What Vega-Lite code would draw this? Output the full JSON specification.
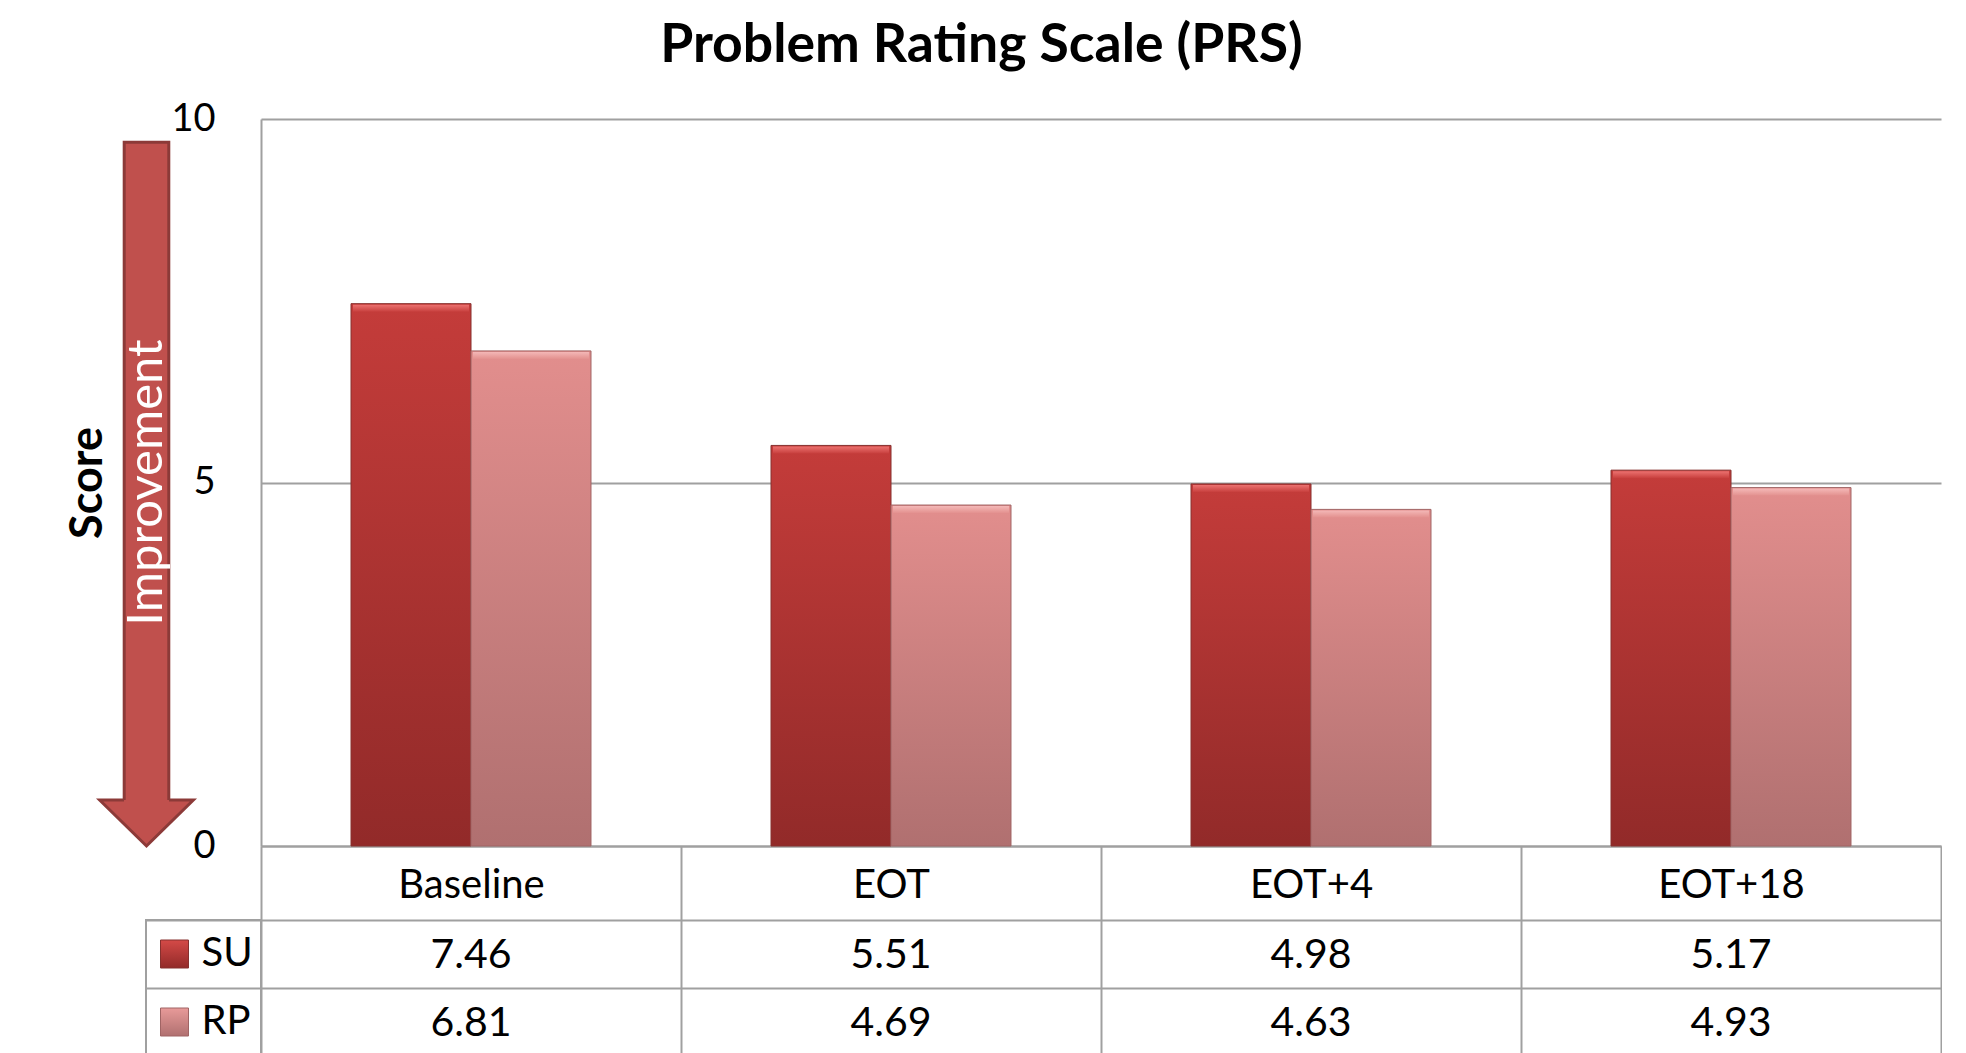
{
  "$schema": "https://vega.github.io/schema/vega-lite/v6.json",
  "background": "white",
  "padding": {"left": 65, "top": 18, "right": 0, "bottom": 0},
  "title": {
    "text": "Problem Rating Scale (PRS)",
    "font": "Lato",
    "fontSize": 53.5,
    "fontWeight": "bold",
    "color": "black",
    "anchor": "middle",
    "dx": -22,
    "offset": 27
  },
  "datasets": {
    "scores": [
      {"time": "Baseline", "group": "SU", "score": 7.46},
      {"time": "Baseline", "group": "RP", "score": 6.81},
      {"time": "EOT", "group": "SU", "score": 5.51},
      {"time": "EOT", "group": "RP", "score": 4.69},
      {"time": "EOT+4", "group": "SU", "score": 4.98},
      {"time": "EOT+4", "group": "RP", "score": 4.63},
      {"time": "EOT+18", "group": "SU", "score": 5.17},
      {"time": "EOT+18", "group": "RP", "score": 4.93}
    ],
    "groups": [{"group": "SU"}, {"group": "RP"}],
    "arrow": [{"label": "Improvement", "from": 9.68, "to": 0.45, "tip": 0}]
  },
  "spacing": -20,
  "vconcat": [
    {
      "hconcat": [
        {
          "width": 1,
          "height": 727,
          "data": {"name": "arrow"},
          "layer": [
            {
              "mark": {"type": "bar", "width": 44.6, "fill": "#C0504D", "stroke": "#8C3A38", "strokeWidth": 3},
              "encoding": {
                "y": {
                  "field": "from",
                  "type": "quantitative",
                  "scale": {"domain": [0, 10], "nice": false, "zero": false},
                  "axis": {
                    "title": "Score",
                    "titleFont": "Lato",
                    "titleFontSize": 45,
                    "titleFontWeight": "bold",
                    "titleColor": "black",
                    "titlePadding": 36,
                    "labels": false,
                    "ticks": false,
                    "grid": false,
                    "domainOpacity": 0
                  }
                },
                "y2": {"field": "to"}
              }
            },
            {
              "mark": {
                "type": "point",
                "shape": "M-0.48,-0.98L-1,-0.98L0,0L1,-0.98L0.48,-0.98",
                "size": 8779,
                "filled": true,
                "fill": "#C0504D",
                "stroke": "#8C3A38",
                "strokeWidth": 3,
                "opacity": 1
              },
              "encoding": {"y": {"field": "tip", "type": "quantitative"}}
            },
            {
              "mark": {
                "type": "text",
                "angle": 270,
                "font": "Lato",
                "fontSize": 49,
                "fontWeight": 400,
                "fill": "white",
                "baseline": "middle",
                "align": "center"
              },
              "encoding": {
                "y": {"datum": 5, "type": "quantitative"},
                "text": {"field": "label"}
              }
            }
          ]
        },
        {
          "width": 1680,
          "height": 727,
          "data": {"name": "scores"},
          "encoding": {
            "x": {
              "field": "time",
              "type": "nominal",
              "sort": ["Baseline", "EOT", "EOT+4", "EOT+18"],
              "scale": {"paddingInner": 0.4286, "paddingOuter": 0.2143},
              "axis": {
                "title": null,
                "labels": false,
                "ticks": false,
                "domainColor": "#A0A0A0",
                "domainWidth": 2
              }
            },
            "xOffset": {
              "field": "group",
              "type": "nominal",
              "sort": ["SU", "RP"],
              "scale": {"paddingInner": 0, "paddingOuter": 0}
            },
            "y": {
              "field": "score",
              "type": "quantitative",
              "scale": {"domain": [0, 10], "nice": false},
              "axis": {
                "title": null,
                "values": [0, 5, 10],
                "grid": true,
                "gridColor": "#A0A0A0",
                "gridWidth": 2,
                "domainColor": "#A0A0A0",
                "domainWidth": 2,
                "ticks": false,
                "labelPadding": 46,
                "labelFont": "Lato",
                "labelFontSize": 38,
                "labelColor": "black"
              }
            }
          },
          "layer": [
            {
              "mark": {"type": "bar", "strokeWidth": 1},
              "encoding": {
                "fill": {
                  "condition": {
                    "test": "datum.group === 'SU'",
                    "value": {"gradient": "linear", "x1": 0, "y1": 0, "x2": 0, "y2": 1, "stops": [{"offset": 0, "color": "#C43C3A"}, {"offset": 1, "color": "#922A29"}]}
                  },
                  "value": {"gradient": "linear", "x1": 0, "y1": 0, "x2": 0, "y2": 1, "stops": [{"offset": 0, "color": "#E28E8D"}, {"offset": 1, "color": "#B07070"}]}
                },
                "stroke": {
                  "condition": {"test": "datum.group === 'SU'", "value": "#86302E"},
                  "value": "#A06464"
                }
              }
            },
            {
              "mark": {"type": "tick", "thickness": 7, "size": 116, "yOffset": 4.5, "opacity": 1},
              "encoding": {
                "fill": {
                  "condition": {
                    "test": "datum.group === 'SU'",
                    "value": {"gradient": "linear", "x1": 0, "y1": 0, "x2": 0, "y2": 1, "stops": [{"offset": 0, "color": "#EC7270"}, {"offset": 1, "color": "#C8403E"}]}
                  },
                  "value": {"gradient": "linear", "x1": 0, "y1": 0, "x2": 0, "y2": 1, "stops": [{"offset": 0, "color": "#F4B8B7"}, {"offset": 1, "color": "#E3918F"}]}
                }
              }
            }
          ]
        }
      ],
      "spacing": 114,
      "bounds": "flush"
    },
    {
      "hconcat": [
        {
          "width": 115,
          "height": 136,
          "view": {"stroke": "#A0A0A0", "strokeWidth": 2},
          "data": {"name": "groups"},
          "encoding": {
            "y": {
              "field": "group",
              "type": "nominal",
              "sort": ["SU", "RP"],
              "scale": {"type": "band", "paddingInner": 0, "paddingOuter": 0},
              "axis": {
                "title": null,
                "labels": false,
                "ticks": false,
                "domain": false,
                "grid": true,
                "tickBand": "extent",
                "gridColor": "#A0A0A0",
                "gridWidth": 2
              }
            }
          },
          "layer": [
            {
              "mark": {"type": "square", "size": 784, "xOffset": -29, "strokeWidth": 1, "opacity": 1},
              "encoding": {
                "fill": {
                  "condition": {
                    "test": "datum.group === 'SU'",
                    "value": {"gradient": "linear", "x1": 0, "y1": 0, "x2": 0, "y2": 1, "stops": [{"offset": 0, "color": "#D44A47"}, {"offset": 1, "color": "#922A29"}]}
                  },
                  "value": {"gradient": "linear", "x1": 0, "y1": 0, "x2": 0, "y2": 1, "stops": [{"offset": 0, "color": "#E89A99"}, {"offset": 1, "color": "#B07070"}]}
                },
                "stroke": {
                  "condition": {"test": "datum.group === 'SU'", "value": "#86302E"},
                  "value": "#A06464"
                }
              }
            },
            {
              "mark": {"type": "text", "align": "left", "dx": -2, "font": "Lato", "fontSize": 40, "baseline": "middle", "color": "black"},
              "encoding": {"text": {"field": "group"}}
            }
          ]
        },
        {
          "width": 1680,
          "height": 136,
          "data": {"name": "scores"},
          "mark": {"type": "text", "font": "Lato", "fontSize": 41, "color": "black", "baseline": "middle", "dy": 2},
          "encoding": {
            "x": {
              "field": "time",
              "type": "nominal",
              "sort": ["Baseline", "EOT", "EOT+4", "EOT+18"],
              "scale": {"type": "band", "paddingInner": 0, "paddingOuter": 0},
              "axis": {
                "orient": "top",
                "title": null,
                "labels": true,
                "labelAngle": 0,
                "labelFont": "Lato",
                "labelFontSize": 40,
                "labelColor": "black",
                "labelBaseline": "alphabetic",
                "labelPadding": -51,
                "ticks": true,
                "tickBand": "extent",
                "tickSize": 74,
                "tickColor": "#A0A0A0",
                "tickWidth": 2,
                "domain": false,
                "grid": true,
                "gridColor": "#A0A0A0",
                "gridWidth": 2
              }
            },
            "y": {
              "field": "group",
              "type": "nominal",
              "sort": ["SU", "RP"],
              "scale": {"type": "band", "paddingInner": 0, "paddingOuter": 0},
              "axis": {
                "title": null,
                "labels": false,
                "ticks": false,
                "domain": false,
                "grid": true,
                "tickBand": "extent",
                "gridColor": "#A0A0A0",
                "gridWidth": 2
              }
            },
            "text": {"field": "score", "type": "quantitative", "format": ".2f"}
          }
        }
      ],
      "spacing": 0,
      "bounds": "flush"
    }
  ],
  "config": {
    "font": "Lato",
    "view": {"stroke": null}
  }
}
